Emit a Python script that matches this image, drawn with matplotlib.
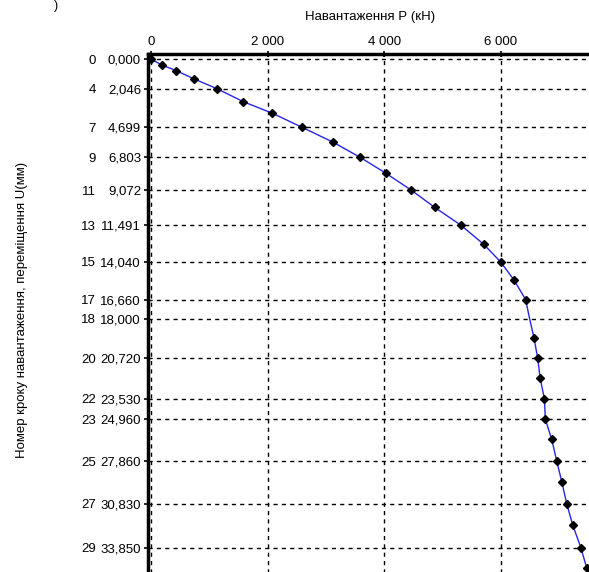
import numpy as np
import matplotlib
matplotlib.use('Agg')
import matplotlib.pyplot as plt
import matplotlib.transforms as mtransforms

plt.rcParams['font.family'] = ['Liberation Sans', 'DejaVu Sans']

# load steps: load P (kN) and displacement U (mm)
steps = list(range(31))
load = [0, 184, 431, 729, 1133, 1581, 2081, 2581, 3115, 3591, 4034,
        4466, 4867, 5315, 5707, 6000, 6233, 6431, 6500, 6574, 6638,
        6681, 6753, 6770, 6879, 6966, 7052, 7138, 7241, 7379, 7483]
disp = [0.0, 0.40, 0.79, 1.35, 2.046, 2.94, 3.74, 4.699, 5.73, 6.803, 7.91,
        9.072, 10.26, 11.491, 12.81, 14.040, 15.31, 16.660, 18.000, 19.30, 20.720,
        22.12, 23.530, 24.960, 26.35, 27.860, 29.29, 30.830, 32.30, 33.850, 35.30]

# labelled steps on the left axis
tick_steps = [0, 4, 7, 9, 11, 13, 15, 17, 18, 20, 22, 23, 25, 27, 29]
tick_disp = [0.0, 2.046, 4.699, 6.803, 9.072, 11.491, 14.040, 16.660, 18.000,
             20.720, 23.530, 24.960, 27.860, 30.830, 33.850]
tick_disp_labels = ['0,000', '2,046', '4,699', '6,803', '9,072', '11,491', '14,040',
                    '16,660', '18,000', '20,720', '23,530', '24,960', '27,860',
                    '30,830', '33,850']
x_ticks = [0, 2000, 4000, 6000]
x_tick_labels = ['0', '2 000', '4 000', '6 000']

fig = plt.figure(figsize=(5.89, 5.72), dpi=100)
ax = fig.add_axes([0.2513, -0.014, 0.7674, 0.9196])

marks = [i for i in steps if i != 18]
ax.plot(load, disp, color='#2626e6', lw=1.0, marker='D', markersize=4,
        markerfacecolor='black', markeredgecolor='black', markevery=marks, zorder=3)

ax.set_xlim(-58, 7709)
ax.set_ylim(36.1, -0.37)

ax.xaxis.tick_top()
ax.set_xticks(x_ticks)
ax.set_xticklabels(x_tick_labels, fontsize=9.5)
ax.set_yticks(tick_disp)
ax.set_yticklabels(tick_disp_labels, fontsize=9.5)
ax.tick_params(axis='both', length=3, width=1.2, color='black', pad=2)
ax.tick_params(axis='x', direction='inout', length=5)

ax.grid(True, color='black', linestyle=(0, (3, 3)), linewidth=1.0)

for side in ['top', 'left']:
    ax.spines[side].set_linewidth(2.5)
for side in ['right', 'bottom']:
    ax.spines[side].set_visible(False)

# step numbers left of displacement labels
trans = mtransforms.blended_transform_factory(fig.transFigure, ax.transData)
for s, d in zip(tick_steps, tick_disp):
    ax.text(96 / 589, d, str(s), transform=trans, ha='right', va='center_baseline',
            fontsize=9.5)

fig.text(370 / 589, 1 - 17 / 572, 'Навантаження Р (кН)', ha='center', va='center', fontsize=9.5)
fig.text(22 / 589, 1 - 310 / 572, 'Номер кроку навантаження, переміщення U(мм)',
         rotation=90, ha='center', va='center', fontsize=9.5)
fig.text(56 / 589, 1 - 6 / 572, ')', ha='center', va='center', fontsize=9)

fig.savefig('out.png', dpi=100)
